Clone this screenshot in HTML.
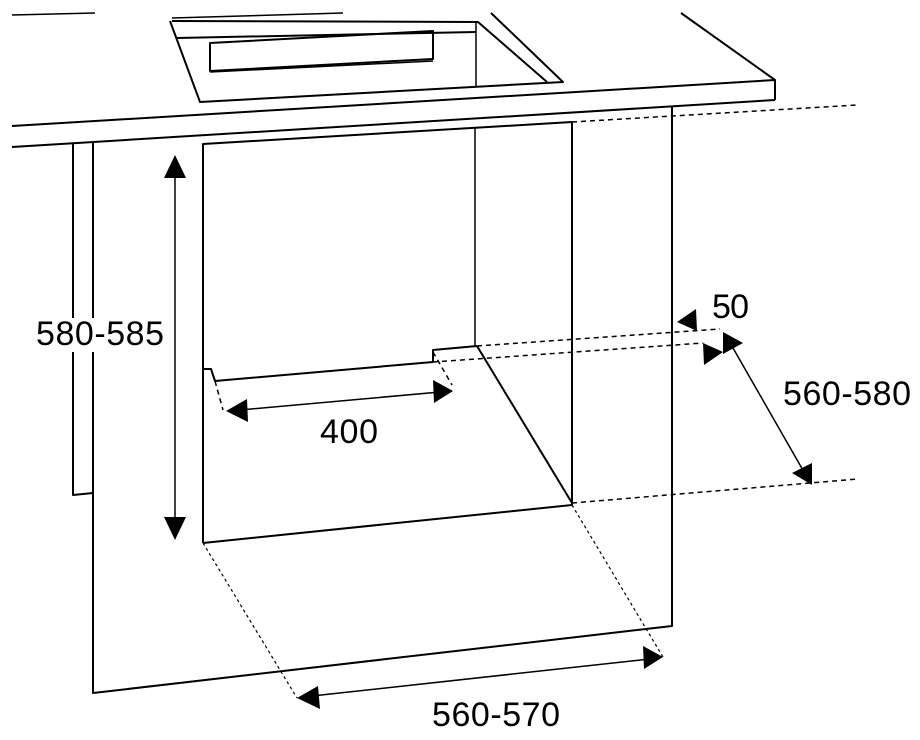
<!DOCTYPE html>
<html><head><meta charset="utf-8"><style>html,body{margin:0;padding:0;background:#fff}svg{display:block}</style></head>
<body>
<svg width="920" height="740" viewBox="0 0 920 740" xmlns="http://www.w3.org/2000/svg">
<g fill="none" stroke="#000" stroke-width="2" stroke-linejoin="round">
<!-- faint top lines -->
<line x1="12" y1="15" x2="95" y2="13" stroke-width="1.5"/>
<line x1="172" y1="18" x2="343" y2="13" stroke-width="1.5"/>
<!-- sink -->
<path d="M172 21 L478 22 L547 82 M170 21 L200 102 L563 82 L491 13"/>
<line x1="177" y1="38" x2="476" y2="32"/>
<line x1="476" y1="22" x2="476" y2="87" stroke-width="1.5"/>
<path d="M210 43 L433 31 L433 59 L210 71 Z"/>
<line x1="210" y1="72" x2="433" y2="61" stroke-width="1.5"/>
<!-- countertop -->
<path d="M681 13 L775 80 L775 100 M12 126 L775 80 M12 147 L775 100"/>
<!-- left panel -->
<path d="M73 143 L73 495 L93 493 M93 143 L93 693 L672 626 L672 107"/>
<!-- cabinet -->
<path d="M203 543 L203 144 L572 122 L572 505 L203 543"/>
<line x1="475" y1="128" x2="475" y2="346" stroke-width="1.5"/>
<path d="M477 346 L572 503"/>
<path d="M203 369 L211 369 L215 381 L433 362 L433 350 L477 346"/>
</g>
<g fill="none" stroke="#000" stroke-width="1.5" stroke-dasharray="5,4">
<line x1="572" y1="122" x2="857" y2="105"/>
<line x1="477" y1="346" x2="720" y2="329"/>
<line x1="433" y1="362" x2="703" y2="343"/>
<line x1="572" y1="503" x2="858" y2="479"/>
<line x1="215" y1="381" x2="223" y2="410"/>
<line x1="433" y1="352" x2="452" y2="385"/>
</g>
<g fill="none" stroke="#000" stroke-width="1.2" stroke-dasharray="3,3">
<line x1="203" y1="543" x2="297" y2="698"/>
<line x1="572" y1="505" x2="663" y2="657"/>
</g>
<g stroke="#000" stroke-width="1.5">
<line x1="175" y1="170" x2="175" y2="525"/>
<line x1="240" y1="410" x2="440" y2="392"/>
<line x1="312" y1="696" x2="650" y2="659"/>
<line x1="733" y1="348" x2="804" y2="472"/>
</g>
<g fill="#000">
<polygon points="175,155 164,178 186,178"/>
<polygon points="175,540 164,517 186,517"/>
<polygon points="226,411 247,399 248,422"/>
<polygon points="453,391 433,380 434,403"/>
<polygon points="297,698 318,686 320,709"/>
<polygon points="663,657 643,646 644,669"/>
<polygon points="677,322 696,309 697,331"/>
<polygon points="703,343 723,352 704,365"/>
<polygon points="723,332 743,343 723,354"/>
<polygon points="812,485 792,473 812,463"/>
</g>
<rect x="34" y="318" width="132" height="34" fill="#fff"/>
<g font-family="Liberation Sans, Arial, sans-serif" font-size="34" fill="#000">
<text x="36" y="345" textLength="128">580-585</text>
<text x="320" y="443" textLength="58">400</text>
<text x="432" y="726" textLength="128">560-570</text>
<text x="712" y="318" textLength="37">50</text>
<text x="783" y="405" textLength="128">560-580</text>
</g>
</svg>
</body></html>
